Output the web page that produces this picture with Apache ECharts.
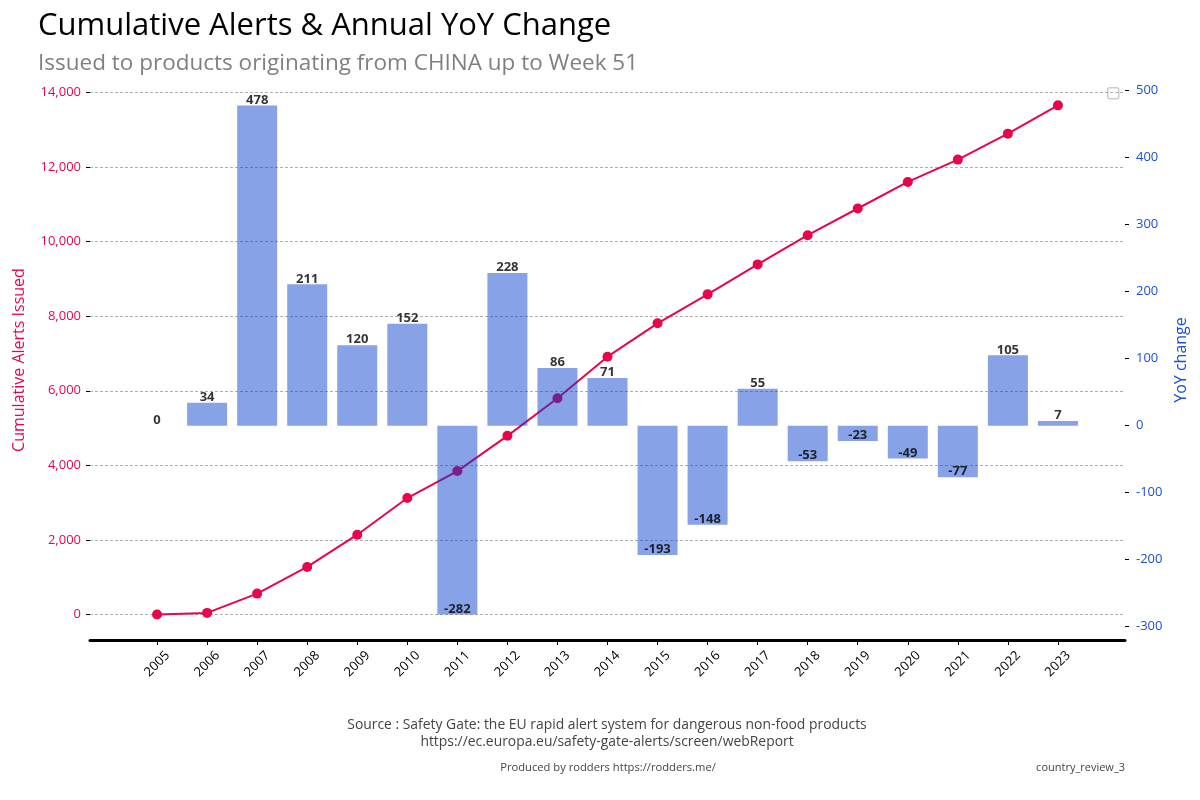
<!DOCTYPE html>
<html>
<head>
<meta charset="utf-8">
<script src="https://cdn.jsdelivr.net/npm/echarts@6/dist/echarts.min.js"></script>
<style>html,body{margin:0;padding:0;background:#fff}#c{width:1200px;height:800px}</style>
</head>
<body>
<div id="c"></div>
<script>
const years = [2005,2006,2007,2008,2009,2010,2011,2012,2013,2014,2015,2016,2017,2018,2019,2020,2021,2022,2023];
const cumulative = [0,45,562,1277,2141,3124,3847,4792,5801,6914,7808,8585,9388,10172,10887,11599,12198,12894,13652];
const yoy = [0,34,478,211,120,152,-282,228,86,71,-193,-148,55,-53,-23,-49,-77,105,7];
const leftTicks = [0,2000,4000,6000,8000,10000,12000,14000];
const rightTicks = [-300,-200,-100,0,100,200,300,400,500];

const RED = '#e8064a';
const BLUE = '#1a4fd6';
const FONT = '"Open Sans", "Noto Sans", sans-serif';

const chart = echarts.init(document.getElementById('c'), null, {renderer: 'canvas'});
const pairs = (arr) => years.map((y, i) => [y, arr[i]]);

chart.setOption({
  animation: false,
  textStyle: {fontFamily: FONT},
  title: [
    {text: 'Cumulative Alerts & Annual YoY Change', left: 33, top: 6,
     textStyle: {fontFamily: FONT, fontSize: 31, fontWeight: 'normal', color: '#000'}},
    {text: 'Issued to products originating from CHINA up to Week 51', left: 33, top: 47,
     textStyle: {fontFamily: FONT, fontSize: 22.5, fontWeight: 'normal', color: '#808080'}}
  ],
  grid: {left: 90, right: 75, top: 80, bottom: 160, containLabel: false},
  xAxis: {
    type: 'value', min: 2003.66, max: 2024.34,
    axisLine: {show: true, onZero: false, lineStyle: {color: '#000', width: 3}},
    axisTick: {show: true, customValues: years, length: 5, lineStyle: {color: '#000', width: 1}},
    axisLabel: {customValues: years, rotate: 45, align: 'center', verticalAlign: 'middle',
      formatter: (v) => String(v), color: '#000', fontSize: 13, fontFamily: FONT, margin: 24},
    splitLine: {show: false}
  },
  yAxis: [
    {
      type: 'value', position: 'left', min: -682, max: 14332,
      axisLine: {show: false},
      axisTick: {show: true, customValues: leftTicks, length: 4, lineStyle: {color: '#000'}},
      axisLabel: {customValues: leftTicks, color: RED, fontSize: 13, fontFamily: FONT, margin: 9,
        formatter: (v) => v.toLocaleString('en-US')},
      splitLine: {show: true, lineStyle: {color: '#999', type: [3, 2], width: 0.8}},
      name: 'Cumulative Alerts Issued', nameLocation: 'middle', nameGap: 63,
      nameTextStyle: {color: RED, fontSize: 16, fontFamily: FONT}
    },
    {
      type: 'value', position: 'right', min: -320, max: 516,
      axisLine: {show: false},
      axisTick: {show: true, customValues: rightTicks, length: 4, lineStyle: {color: '#000'}},
      axisLabel: {customValues: rightTicks, color: BLUE, fontSize: 13, fontFamily: FONT, margin: 11},
      splitLine: {show: false},
      name: 'YoY change', nameLocation: 'middle', nameGap: 44,
      nameTextStyle: {color: BLUE, fontSize: 16, fontFamily: FONT}
    }
  ],
  series: [
    {
      type: 'line', name: 'Cumulative', yAxisIndex: 0, z: 1,
      data: pairs(cumulative),
      symbol: 'circle', symbolSize: 10,
      lineStyle: {color: RED, width: 2},
      itemStyle: {color: RED}
    },
    {
      type: 'bar', name: 'YoY', yAxisIndex: 1, z: 2,
      data: pairs(yoy), barWidth: 40,
      itemStyle: {color: 'rgba(5,61,203,0.48)'}
    },
    {
      type: 'scatter', yAxisIndex: 1, z: 3, symbolSize: 0,
      data: pairs(yoy),
      label: {show: true, position: 'top', distance: -1, color: '#000', fontWeight: 'bold',
        fontSize: 13, fontFamily: FONT, formatter: (p) => String(p.value[1])}
    }
  ],
  graphic: [
    {type: 'rect', left: 1107, top: 87, shape: {width: 11, height: 11, r: 2},
     style: {fill: '#fff', stroke: '#cccccc', lineWidth: 1.5}},
    {type: 'text', x: 607, y: 725, style: {text: 'Source : Safety Gate: the EU rapid alert system for dangerous non-food products',
      font: '13.9px ' + FONT, fill: '#444', align: 'center', verticalAlign: 'middle'}},
    {type: 'text', x: 607, y: 742, style: {text: 'https://ec.europa.eu/safety-gate-alerts/screen/webReport',
      font: '13.9px ' + FONT, fill: '#444', align: 'center', verticalAlign: 'middle'}},
    {type: 'text', x: 608, y: 768, style: {text: 'Produced by rodders https://rodders.me/',
      font: '11.2px ' + FONT, fill: '#444', align: 'center', verticalAlign: 'middle'}},
    {type: 'text', x: 1125, y: 768, style: {text: 'country_review_3',
      font: '11px ' + FONT, fill: '#444', align: 'right', verticalAlign: 'middle'}}
  ]
});
</script>
</body>
</html>
